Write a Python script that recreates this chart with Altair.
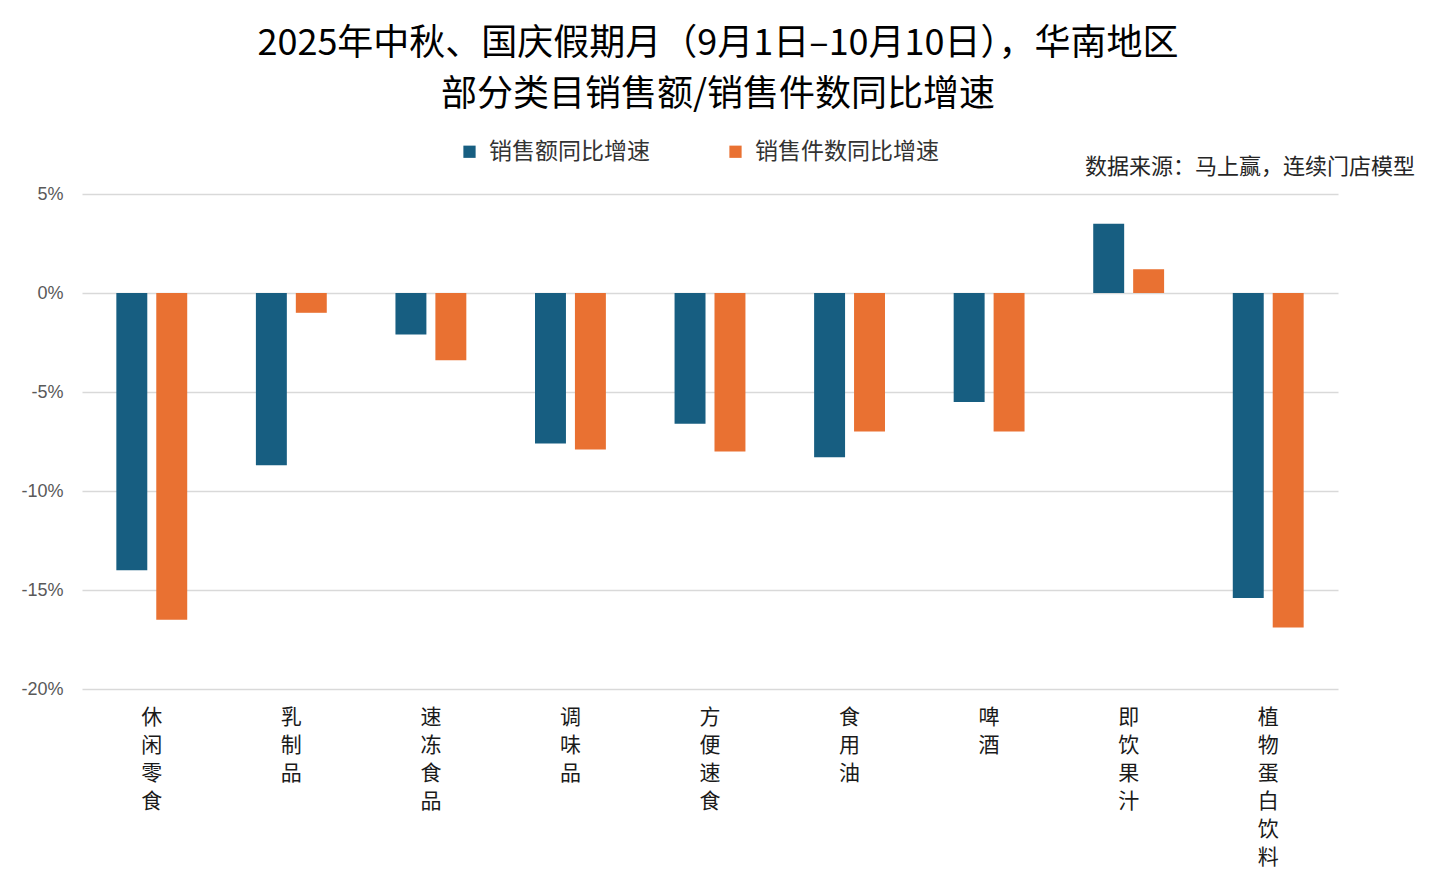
import pandas as pd
import altair as alt

# Categories and year-on-year growth (%)
categories = ["休闲零食", "乳制品", "速冻食品", "调味品", "方便速食",
              "食用油", "啤酒", "即饮果汁", "植物蛋白饮料"]
series_names = ["销售额同比增速", "销售件数同比增速"]
sales_yoy = [-14.0, -8.7, -2.1, -7.6, -6.6, -8.3, -5.5, 3.5, -15.4]
units_yoy = [-16.5, -1.0, -3.4, -7.9, -8.0, -7.0, -7.0, 1.2, -16.9]
y_ticks = [5, 0, -5, -10, -15, -20]

title_lines = ["2025年中秋、国庆假期月（9月1日–10月10日），华南地区",
               "部分类目销售额/销售件数同比增速"]
source_note = "数据来源：马上赢，连续门店模型"

FONT = "Noto Sans CJK SC"
BLUE = "#175e81"
ORANGE = "#e97132"

rows = []
for i, cat in enumerate(categories):
    rows.append({"cat": cat, "series": series_names[0], "value": sales_yoy[i]})
    rows.append({"cat": cat, "series": series_names[1], "value": units_yoy[i]})
df = pd.DataFrame(rows)

bars = alt.Chart(df).mark_bar().encode(
    x=alt.X("cat:N", sort=categories, title=None,
            scale=alt.Scale(paddingInner=0, paddingOuter=0),
            axis=alt.Axis(labelAngle=0, labelExpr="split(datum.label, '')",
                          labelFont=FONT, labelFontSize=21, labelColor="#1a1a1a",
                          labelLineHeight=28, labelBaseline="top", labelPadding=17,
                          ticks=False, domain=False, grid=False)),
    xOffset=alt.XOffset("series:N", sort=series_names,
                        scale=alt.Scale(paddingInner=0.225, paddingOuter=0.86)),
    y=alt.Y("value:Q", title=None,
            scale=alt.Scale(domain=[-20, 5], nice=False),
            axis=alt.Axis(values=y_ticks, labelExpr="datum.value + '%'",
                          labelFont="Liberation Sans", labelFontSize=18,
                          labelColor="#595959", labelPadding=19,
                          ticks=False, domain=False,
                          gridColor="#d9d9d9", gridWidth=1.5)),
    color=alt.Color("series:N", sort=series_names,
                    scale=alt.Scale(domain=series_names, range=[BLUE, ORANGE]),
                    legend=alt.Legend(title=None, orient="none", direction="horizontal",
                                      legendX=376, legendY=-54,
                                      symbolType="square", symbolSize=150,
                                      symbolStrokeWidth=0,
                                      labelFont=FONT, labelFontSize=23,
                                      labelColor="#333333", labelLimit=400,
                                      columnPadding=74, labelOffset=8)),
)

note = alt.Chart(pd.DataFrame({"t": [source_note]})).mark_text(
    align="right", baseline="middle", font=FONT, fontSize=22, color="#262626"
).encode(
    x=alt.value(1333), y=alt.value(-27), text="t:N"
)

chart = alt.layer(bars, note).properties(
    width=1256,
    height=495,
    padding={"left": 74, "top": 186, "right": 90, "bottom": 185},
    autosize=alt.AutoSizeParams(type="none"),
    title=alt.TitleParams(title_lines, font=FONT, fontSize=36, fontWeight="normal",
                          color="#000000", lineHeight=51, anchor="middle",
                          offset=26, dx=8),
).configure_view(stroke=None)

chart.save("out.html", embed_options={"renderer": "svg", "actions": False})
